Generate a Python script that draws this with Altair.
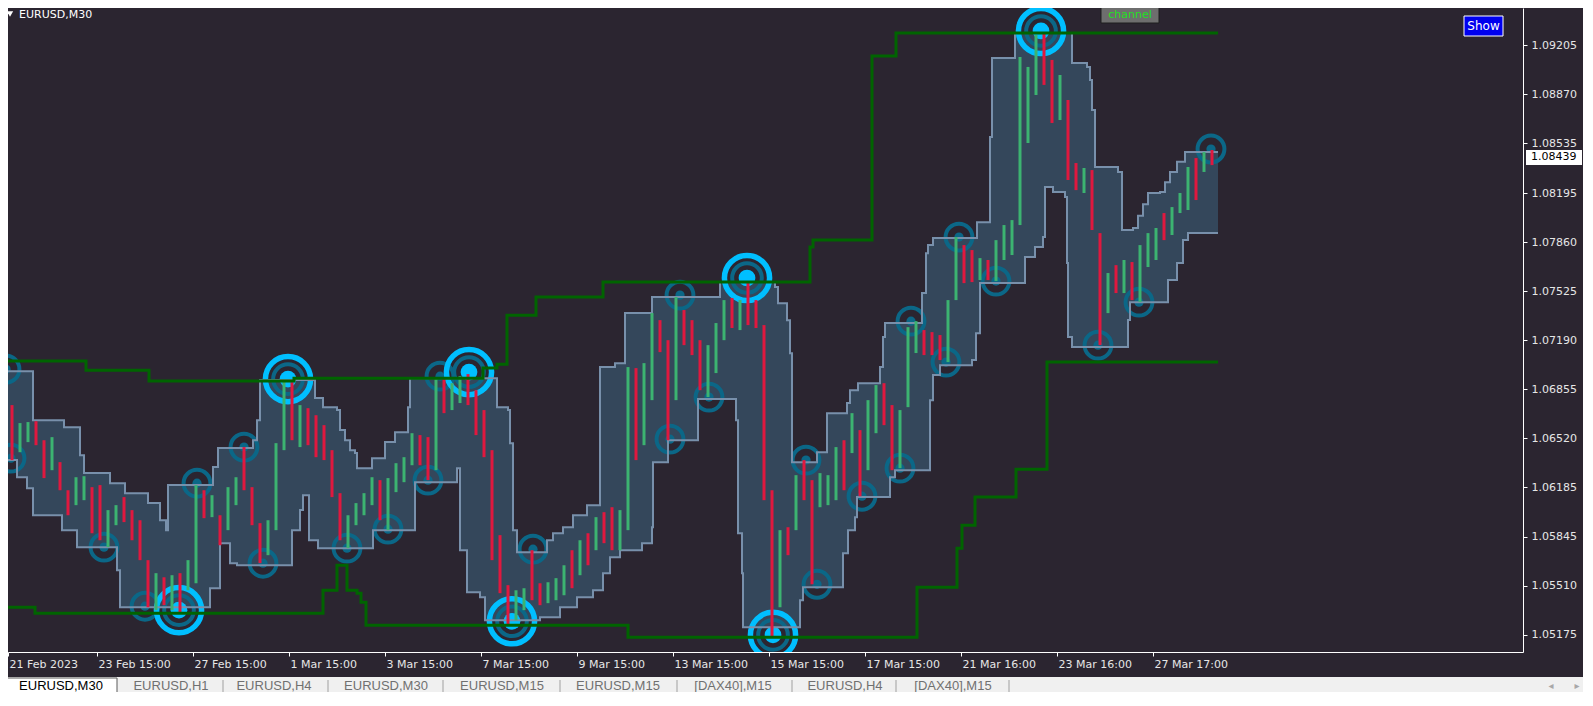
import altair as alt
import pandas as pd

# ---------------- data (prices) ----------------
# aggregated candles, 8 M30 bars each (first candle starts at bar 0)
BARS_PER_CANDLE = 8
cndl_high = [1.06985, 1.06746, 1.06623, 1.06630, 1.06636, 1.06506, 1.06527, 1.06356, 1.06164, 1.06253,
             1.06260, 1.06185, 1.06199, 1.06028, 1.06062, 1.06117, 1.06028, 1.05959, 1.05686, 1.05597,
             1.05569, 1.05583, 1.05597, 1.05686, 1.06199, 1.06164, 1.06130, 1.05993, 1.06185, 1.06253,
             1.06459, 1.06185, 1.05939, 1.05959, 1.06486, 1.06917, 1.06903, 1.06746, 1.06725, 1.06677,
             1.06609, 1.06438, 1.06144, 1.05993, 1.06076, 1.06144, 1.06253, 1.06233, 1.06247, 1.06349,
             1.06390, 1.06554, 1.06541, 1.06527, 1.06937, 1.06937, 1.06896, 1.06944, 1.06958, 1.06848,
             1.06712, 1.06438, 1.05857, 1.05515, 1.05480, 1.05494, 1.05754, 1.05528, 1.05535, 1.05563,
             1.05651, 1.05754, 1.05822, 1.05870, 1.05980, 1.06014, 1.06048, 1.06028, 1.07006, 1.06999,
             1.07033, 1.07375, 1.07327, 1.07190, 1.07485, 1.07396, 1.07327, 1.07190, 1.07156, 1.07307,
             1.07464, 1.07478, 1.07464, 1.07587, 1.07464, 1.07293, 1.06164, 1.05891, 1.05911, 1.06267,
             1.06370, 1.06233, 1.06281, 1.06267, 1.06459, 1.06506, 1.06691, 1.06575, 1.06780, 1.06883,
             1.06896, 1.06746, 1.06712, 1.07279, 1.07320, 1.07259, 1.07245, 1.07225, 1.07464, 1.07895,
             1.07840, 1.07806, 1.07751, 1.07738, 1.07874, 1.07977, 1.08011, 1.09126, 1.09058, 1.09277,
             1.09290, 1.09106, 1.09003, 1.08832, 1.08401, 1.08367, 1.08353, 1.07922, 1.07649, 1.07703,
             1.07738, 1.07724, 1.07840, 1.07922, 1.07957, 1.08059, 1.08100, 1.08196, 1.08374, 1.08435,
             1.08476, 1.08490]
cndl_low = [1.06506, 1.06370, 1.06424, 1.06493, 1.06472, 1.06247, 1.06301, 1.06164, 1.05993, 1.06062,
            1.06096, 1.05870, 1.05822, 1.05775, 1.05925, 1.05946, 1.05822, 1.05686, 1.05364, 1.05344,
            1.05378, 1.05344, 1.05323, 1.05480, 1.05528, 1.05973, 1.05980, 1.05788, 1.05891, 1.06062,
            1.06164, 1.05925, 1.05665, 1.05720, 1.05891, 1.06438, 1.06506, 1.06459, 1.06472, 1.06390,
            1.06370, 1.06117, 1.05822, 1.05768, 1.05925, 1.05993, 1.06062, 1.05959, 1.05891, 1.06151,
            1.06219, 1.06335, 1.06335, 1.06233, 1.06301, 1.06691, 1.06712, 1.06760, 1.06746, 1.06541,
            1.06390, 1.05686, 1.05460, 1.05241, 1.05275, 1.05344, 1.05412, 1.05378, 1.05392, 1.05412,
            1.05446, 1.05494, 1.05583, 1.05651, 1.05754, 1.05802, 1.05754, 1.05754, 1.05891, 1.06370,
            1.06472, 1.06780, 1.07108, 1.06506, 1.06780, 1.07156, 1.07088, 1.06848, 1.06801, 1.06965,
            1.07190, 1.07273, 1.07259, 1.07293, 1.07273, 1.06096, 1.05159, 1.05364, 1.05720, 1.05891,
            1.06096, 1.05521, 1.06048, 1.06062, 1.06096, 1.06164, 1.06418, 1.06123, 1.06301, 1.06554,
            1.06609, 1.06301, 1.06315, 1.06732, 1.07102, 1.07088, 1.07088, 1.07054, 1.07040, 1.07464,
            1.07580, 1.07587, 1.07601, 1.07601, 1.07594, 1.07738, 1.07772, 1.07977, 1.08538, 1.08866,
            1.08935, 1.08675, 1.08695, 1.08285, 1.08216, 1.08196, 1.07943, 1.07156, 1.07375, 1.07512,
            1.07512, 1.07464, 1.07450, 1.07690, 1.07738, 1.07874, 1.07909, 1.08059, 1.08080, 1.08148,
            1.08340, 1.08387]
cndl_dir = ("uduudduddu" "udduuddddu" "duduududuu" "ddduuududd" "ddduuuuduu"
            "uudduduudd" "dddduudduu" "udududduud" "uudduddduu" "ududdddudu"
            "dduuududuu" "dduuuddduu" "dduduuuuuu" "ddudduddud" "uduuuduuud" "ud")

# price band (upper / lower edge), step points: bar index -> price
band_up_bar = [0, 33, 64, 80, 84, 110, 125, 148, 160, 166, 168, 213, 218, 253, 257, 260, 315, 323, 337, 340,
               345, 350, 355, 357, 372, 385, 395, 408, 410, 497, 508, 510, 513, 517, 547, 553, 563, 573, 587, 600,
               615, 625, 652, 720, 775, 778, 787, 790, 792, 817, 827, 847, 850, 858, 880, 883, 885, 922, 926, 928,
               933, 977, 990, 992, 1015, 1072, 1087, 1090, 1092, 1095, 1118, 1122, 1133, 1138, 1143, 1148, 1160, 1165,
               1170, 1177, 1185, 1218]
band_up_price = [1.06978, 1.06643, 1.06595, 1.06404, 1.06281, 1.06212, 1.06144, 1.06076, 1.05959, 1.05891,
                 1.06199, 1.06322, 1.06452, 1.06506, 1.06643, 1.06917, 1.06794, 1.06732, 1.06712, 1.06575,
                 1.06506, 1.06438, 1.06418, 1.06315, 1.06383, 1.06493, 1.06561, 1.06732, 1.06930, 1.06732,
                 1.06712, 1.06486, 1.05891, 1.05740, 1.05822, 1.05870, 1.05911, 1.05993, 1.06062, 1.07006,
                 1.07033, 1.07375, 1.07485, 1.07587, 1.07553, 1.07443, 1.07327, 1.07101, 1.06356, 1.06424,
                 1.06691, 1.06760, 1.06848, 1.06896, 1.07006, 1.07211, 1.07307, 1.07512, 1.07785, 1.07840,
                 1.07888, 1.07997, 1.08579, 1.09119, 1.09290, 1.09085, 1.09058, 1.08969, 1.08764, 1.08374,
                 1.08340, 1.07943, 1.07957, 1.08040, 1.08120, 1.08196, 1.08203, 1.08270, 1.08340, 1.08410,
                 1.08476, 1.08476]
band_lo_bar = [0, 17, 27, 33, 62, 77, 117, 120, 210, 220, 230, 237, 292, 300, 303, 309, 318, 373, 415, 457,
               460, 467, 480, 485, 540, 560, 577, 593, 603, 610, 620, 642, 652, 653, 668, 698, 736, 738, 742, 743,
               800, 803, 843, 848, 855, 857, 890, 895, 930, 933, 940, 972, 976, 980, 1025, 1035, 1043, 1045,
               1053, 1065, 1067, 1068, 1072, 1128, 1130, 1168, 1177, 1183, 1188, 1218]
band_lo_price = [1.06370, 1.06253, 1.06178, 1.05993, 1.05891, 1.05775, 1.05617, 1.05364, 1.05494, 1.05802,
                 1.05665, 1.05651, 1.05891, 1.06028, 1.06130, 1.05822, 1.05768, 1.05891, 1.06219, 1.06315,
                 1.05754, 1.05467, 1.05432, 1.05275, 1.05296, 1.05364, 1.05432, 1.05480, 1.05597, 1.05706,
                 1.05754, 1.05802, 1.05911, 1.06356, 1.06506, 1.06787, 1.06643, 1.05870, 1.05597, 1.05227,
                 1.05412, 1.05501, 1.05734, 1.05891, 1.05980, 1.06117, 1.06253, 1.06301, 1.06780, 1.06951,
                 1.07019, 1.07054, 1.07238, 1.07580, 1.07758, 1.07827, 1.07895, 1.08237, 1.08203, 1.08169,
                 1.07717, 1.07211, 1.07143, 1.07328, 1.07450, 1.07601, 1.07717, 1.07875, 1.07922, 1.07922]

# "channel" lines (green), step points
chan_up_bar = [0, 86, 149, 294, 483, 497, 507, 536, 603, 810, 813, 872, 896, 1218]
chan_up_price = [1.07047, 1.06985, 1.06910, 1.06930, 1.06999, 1.07026, 1.07361, 1.07485, 1.07587, 1.07827,
                 1.07875, 1.09133, 1.09290, 1.09290]
chan_lo_bar = [0, 3, 35, 323, 337, 347, 357, 361, 366, 628, 917, 957, 962, 975, 1016, 1047, 1218]
chan_lo_price = [1.05631, 1.05364, 1.05323, 1.05480, 1.05651, 1.05480, 1.05460, 1.05398, 1.05241, 1.05159,
                 1.05501, 1.05768, 1.05925, 1.06117, 1.06308, 1.07040, 1.07040]

# pivot markers
pivot_small_bar = [6, 11, 104, 145, 197, 244, 263, 347, 388, 428, 440, 533, 670, 680, 709, 806, 817, 862,
                   900, 911, 946, 959, 996, 1098, 1139, 1211]
pivot_small_price = [1.06992, 1.06383, 1.05775, 1.05371, 1.06212, 1.06459, 1.05665, 1.05768, 1.05898, 1.06233,
                     1.06944, 1.05761, 1.06513, 1.07498, 1.06801, 1.06370, 1.05521, 1.06123, 1.06315, 1.07320,
                     1.07040, 1.07895, 1.07594, 1.07156, 1.07450, 1.08497]
pivot_big_bar = [179, 288, 469, 512, 747, 773, 1041]
pivot_big_price = [1.05344, 1.06924, 1.06972, 1.05268, 1.07615, 1.05175, 1.09304]

price_ticks = [1.05175, 1.05510, 1.05845, 1.06185, 1.06520, 1.06855, 1.07190, 1.07525, 1.07860,
               1.08195, 1.08535, 1.08870, 1.09205]
time_tick_bar = [8, 97, 193, 289, 385, 481, 577, 673, 769, 865, 961, 1057, 1153]
time_tick_label = ["21 Feb 2023", "23 Feb 15:00", "27 Feb 15:00", "1 Mar 15:00", "3 Mar 15:00",
                   "7 Mar 15:00", "9 Mar 15:00", "13 Mar 15:00", "15 Mar 15:00", "17 Mar 15:00",
                   "21 Mar 16:00", "23 Mar 16:00", "27 Mar 17:00"]
current_price = 1.08439
symbol_title = "EURUSD,M30"
tab_labels = ["EURUSD,M30", "EURUSD,H1", "EURUSD,H4", "EURUSD,M30", "EURUSD,M15", "EURUSD,M15",
              "[DAX40],M15", "EURUSD,H4", "[DAX40],M15"]

# ---------------- style / layout ----------------
BG = "#2b2530"
BAND = "#34475b"
BAND_EDGE = "#7890ab"
UP = "#3cb371"
DN = "#e0183f"
CHAN = "#006400"
TEAL = "#0b6787"
CYAN = "#00bfff"
W, H = 1515, 644
X_DOM = [8, 1523]
Y_DOM = [1.05058, 1.09461]
FONT = "DejaVu Sans"

tab_px = [53, 163, 266, 378, 494, 610, 725, 837, 945]
tab_sep_px = [215, 320, 435, 552, 669, 784, 888, 1001]

xs = alt.Scale(domain=X_DOM, nice=False, zero=False)
ys = alt.Scale(domain=Y_DOM, nice=False, zero=False)

lbl_expr = ""
for v, t in zip(time_tick_bar, time_tick_label):
    lbl_expr += f"datum.value == {v} ? '{t}' : "
lbl_expr += "''"

x_axis = alt.Axis(orient="bottom", values=time_tick_bar, labelExpr=lbl_expr, labelAlign="left",
                  labelBaseline="top", labelOffset=1, tickSize=4, labelPadding=2, tickColor="#ffffff",
                  domainColor="#ffffff", labelColor="#e6e6e6", labelFont=FONT, labelFontSize=11,
                  grid=False, title=None, labelOverlap=False, labelFlush=False, labelBound=False)
y_axis = alt.Axis(orient="right", values=price_ticks, format=".5f", tickSize=4, labelPadding=4,
                  tickColor="#ffffff", domainColor="#ffffff", labelColor="#e6e6e6", labelFont=FONT,
                  labelFontSize=11, grid=False, title=None, labelOverlap=False, labelFlush=False)


def X(field="bar"):
    return alt.X(f"{field}:Q", scale=xs, axis=x_axis, title=None)


def Y(field="p"):
    return alt.Y(f"{field}:Q", scale=ys, axis=y_axis, title=None)


band_up_df = pd.DataFrame({"bar": band_up_bar, "p": band_up_price})
band_lo_df = pd.DataFrame({"bar": band_lo_bar, "p": band_lo_price})
chan_up_df = pd.DataFrame({"bar": chan_up_bar, "p": chan_up_price})
chan_lo_df = pd.DataFrame({"bar": chan_lo_bar, "p": chan_lo_price})
cndl_df = pd.DataFrame({
    "bar": [i * BARS_PER_CANDLE + BARS_PER_CANDLE // 2 for i in range(len(cndl_high))],
    "p": cndl_high, "lo": cndl_low, "dir": list(cndl_dir)})
small_df = pd.DataFrame({"bar": pivot_small_bar, "p": pivot_small_price})
big_df = pd.DataFrame({"bar": pivot_big_bar, "p": pivot_big_price})

up_fill = alt.Chart(band_up_df).mark_area(interpolate="step-after", color=BAND, clip=True).encode(
    x=X(), y=Y(), y2=alt.datum(Y_DOM[0]))
lo_fill = alt.Chart(band_lo_df).mark_area(interpolate="step-after", color=BG, clip=True).encode(
    x=X(), y=Y(), y2=alt.datum(Y_DOM[0]))

ring_small = alt.Chart(small_df).mark_point(shape="circle", filled=False, size=720, strokeWidth=4,
                                            color=TEAL, opacity=1, clip=True).encode(x=X(), y=Y())
dot_small = alt.Chart(small_df).mark_point(shape="circle", filled=True, size=85, color=TEAL,
                                           opacity=1, clip=True).encode(x=X(), y=Y())
ring_big_in = alt.Chart(big_df).mark_point(shape="circle", filled=False, size=880, strokeWidth=4,
                                           color=TEAL, opacity=1, clip=True).encode(x=X(), y=Y())
ring_big_out = alt.Chart(big_df).mark_point(shape="circle", filled=False, size=2040, strokeWidth=5.5,
                                            color=CYAN, opacity=1, clip=True).encode(x=X(), y=Y())
dot_big = alt.Chart(big_df).mark_point(shape="circle", filled=True, size=280, color=CYAN,
                                       opacity=1, clip=True).encode(x=X(), y=Y())

up_line = alt.Chart(band_up_df).mark_line(interpolate="step-after", color=BAND_EDGE, strokeWidth=2,
                                          clip=True).encode(x=X(), y=Y())
lo_line = alt.Chart(band_lo_df).mark_line(interpolate="step-after", color=BAND_EDGE, strokeWidth=2,
                                          clip=True).encode(x=X(), y=Y())

candles = alt.Chart(cndl_df).mark_rule(strokeWidth=3, clip=True).encode(
    x=X(), y=Y(), y2="lo:Q",
    color=alt.Color("dir:N", scale=alt.Scale(domain=["u", "d"], range=[UP, DN]), legend=None))

ch_up = alt.Chart(chan_up_df).mark_line(interpolate="step-after", color=CHAN, strokeWidth=3,
                                        clip=True).encode(x=X(), y=Y())
ch_lo = alt.Chart(chan_lo_df).mark_line(interpolate="step-after", color=CHAN, strokeWidth=3,
                                        clip=True).encode(x=X(), y=Y())

# current price box on the price scale
cur_df = pd.DataFrame({"p": [current_price], "t": [f"{current_price:.5f}"]})
cur_box = alt.Chart(cur_df).mark_point(shape="M-1,-0.27L1,-0.27L1,0.27L-1,0.27Z", filled=True,
                                       size=56 * 56, color="#ffffff", opacity=1).encode(
    x=alt.value(1546), y=Y())
cur_txt = alt.Chart(cur_df).mark_text(align="left", baseline="middle", font=FONT, fontSize=11,
                                      color="#000000").encode(x=alt.value(1523), y=Y(), text="t:N")

one = pd.DataFrame({"a": [0]})


def label(text, x, y, color, size=11, font=FONT, align="center"):
    return alt.Chart(pd.DataFrame({"t": [text]})).mark_text(
        align=align, baseline="middle", font=font, fontSize=size, color=color).encode(
        x=alt.value(x), y=alt.value(y), text="t:N")


def box(x1, x2, y1, y2, fill, stroke=None):
    kw = {"color": fill}
    if stroke:
        kw.update(stroke=stroke, strokeWidth=1)
    return alt.Chart(one).mark_rect(**kw).encode(
        x=alt.value(x1), x2=alt.value(x2), y=alt.value(y1), y2=alt.value(y2))


title_tri = alt.Chart(one).mark_point(shape="triangle-down", filled=True, size=40, color="#ffffff",
                                      opacity=1).encode(x=alt.value(2), y=alt.value(6))
decor = [
    title_tri,
    label(symbol_title, 11, 7, "#ffffff", align="left"),
    box(1093, 1151, -1, 15, "#6e6e6e", "#1e1e1e"),
    label("channel", 1122, 7, "#22e022"),
    box(1456, 1495, 8, 28, "#0000ee", "#ffffff"),
    label("Show", 1475.5, 18, "#ffffff", size=12),
    # tab strip
    box(0, 1580, 669, 700, "#f0f0f0"),
    box(-2, 109, 670, 700, "#ffffff", "#5a5a5a"),
]
for sx in tab_sep_px:
    decor.append(alt.Chart(one).mark_rule(color="#a0a0a0", strokeWidth=1).encode(
        x=alt.value(sx), y=alt.value(672), y2=alt.value(690)))
for i, (px, t) in enumerate(zip(tab_px, tab_labels)):
    decor.append(label(t, px, 678, "#000000" if i == 0 else "#707070", size=13, font="Liberation Sans"))
decor.append(label("\u25c2", 1543, 678, "#a8a8a8", size=10))
decor.append(label("\u25b8", 1569, 678, "#a8a8a8", size=10))

chart = alt.layer(
    up_fill, lo_fill, ring_small, dot_small, ring_big_in, ring_big_out, dot_big,
    up_line, lo_line, candles, ch_up, ch_lo,
    cur_box, cur_txt, *decor
).properties(
    width=W, height=H,
    padding={"left": 0, "top": 0, "right": 60, "bottom": 40},
    autosize=alt.AutoSizeParams(type="none"),
    background=BG,
).configure_view(stroke=None)

chart.save("out.html", embed_options={"renderer": "svg", "actions": False})
